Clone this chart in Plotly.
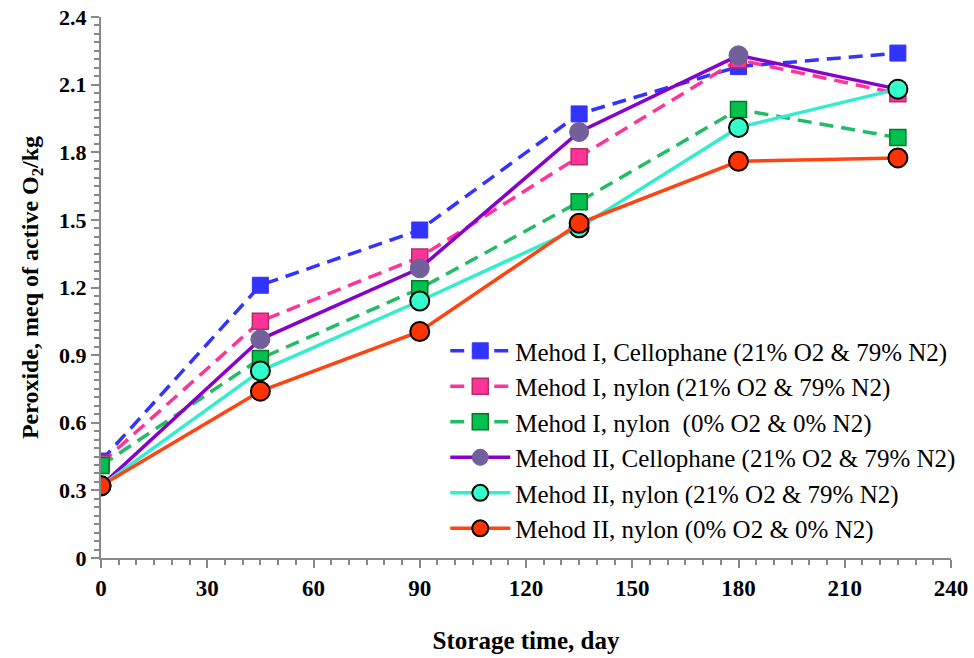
import plotly.graph_objects as go

days = [0, 45, 90, 135, 180, 225]

names = [
    "Mehod I, Cellophane (21% O2 & 79% N2)",
    "Mehod I, nylon (21% O2 & 79% N2)",
    "Mehod I, nylon  (0% O2 & 0% N2)",
    "Mehod II, Cellophane (21% O2 & 79% N2)",
    "Mehod II, nylon (21% O2 & 79% N2)",
    "Mehod II, nylon (0% O2 & 0% N2)",
]

m1_cello_21 = [0.43, 1.21, 1.455, 1.97, 2.18, 2.24]
m1_nylon_21 = [0.42, 1.05, 1.335, 1.78, 2.21, 2.06]
m1_nylon_0 = [0.41, 0.885, 1.195, 1.58, 1.99, 1.865]
m2_cello_21 = [0.32, 0.97, 1.285, 1.89, 2.23, 2.08]
m2_nylon_21 = [0.32, 0.83, 1.14, 1.465, 1.91, 2.08]
m2_nylon_0 = [0.32, 0.74, 1.005, 1.485, 1.76, 1.775]

series = [m1_cello_21, m1_nylon_21, m1_nylon_0, m2_cello_21, m2_nylon_21, m2_nylon_0]

x_ticks = [0, 30, 60, 90, 120, 150, 180, 210, 240]
y_ticks = [0, 0.3, 0.6, 0.9, 1.2, 1.5, 1.8, 2.1, 2.4]
y_tick_labels = ["0", "0.3", "0.6", "0.9", "1.2", "1.5", "1.8", "2.1", "2.4"]

DASH = "14px,8px"
styles = [
    dict(line=dict(color="#3333FF", width=3.5, dash=DASH),
         marker=dict(symbol="square", size=16, color="#3333FF", line=dict(color="#3333FF", width=1))),
    dict(line=dict(color="#FF3399", width=3.5, dash=DASH),
         marker=dict(symbol="square", size=16, color="#FF3399", line=dict(color="#B0305A", width=1.5))),
    dict(line=dict(color="#22BB66", width=3.5, dash=DASH),
         marker=dict(symbol="square", size=16, color="#00C050", line=dict(color="#007A20", width=1.5))),
    dict(line=dict(color="#8800CC", width=3.5),
         marker=dict(symbol="circle", size=19, color="#72609A", line=dict(color="#72609A", width=1))),
    dict(line=dict(color="#33EECC", width=3.5),
         marker=dict(symbol="circle", size=19, color="#33FFCC", line=dict(color="#000000", width=2))),
    dict(line=dict(color="#FF4411", width=3.5),
         marker=dict(symbol="circle", size=19, color="#FF3300", line=dict(color="#000000", width=2))),
]

fig = go.Figure()
for name, vals, st in zip(names, series, styles):
    fig.add_trace(go.Scatter(x=days, y=vals, mode="lines+markers", name=name, **st))

fig.update_layout(
    width=974, height=658,
    margin=dict(l=101, r=23, t=17, b=100),
    plot_bgcolor="white", paper_bgcolor="white",
    font=dict(family="Liberation Serif", color="black"),
    showlegend=True,
    legend=dict(x=0.405, y=0.425, xanchor="left", yanchor="top",
                bgcolor="rgba(0,0,0,0)", font=dict(family="Liberation Serif", size=25, color="black"),
                tracegroupgap=0, itemwidth=60),
    xaxis=dict(range=[0, 240], tickvals=x_ticks, ticktext=[f"<b>{v}</b>" for v in x_ticks],
               automargin=False, showgrid=False, zeroline=False,
               showline=True, linecolor="#888888", linewidth=2,
               ticks="outside", ticklen=8, tickcolor="#888888", tickwidth=2,
               minor=dict(dtick=5, tick0=0, ticks="outside", ticklen=5, tickcolor="#888888", tickwidth=1.5),
               tickfont=dict(family="Liberation Serif", size=23, color="black"),
               title=dict(text="<b>Storage time, day</b>", font=dict(family="Liberation Serif", size=25), standoff=32)),
    yaxis=dict(range=[0, 2.4], tickvals=y_ticks, ticktext=[f"<b>{t}</b>" for t in y_tick_labels],
               automargin=False, showgrid=False, zeroline=False,
               showline=True, linecolor="#888888", linewidth=2,
               ticks="outside", ticklen=8, tickcolor="#888888", tickwidth=2,
               minor=dict(dtick=0.0375, tick0=0, ticks="outside", ticklen=5, tickcolor="#888888", tickwidth=1.5),
               tickfont=dict(family="Liberation Serif", size=22, color="black"),
               title=dict(text="<b>Peroxide, meq of active O<sub>2</sub>/kg</b>",
                          font=dict(family="Liberation Serif", size=24), standoff=14)),
)

fig.write_html("out.html", post_script="document.body.style.margin='0';",
               config={"displayModeBar": False})
